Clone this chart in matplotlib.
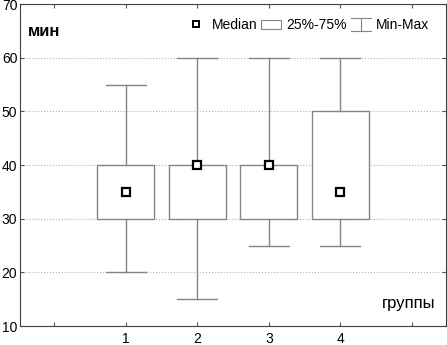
import matplotlib.pyplot as plt
from matplotlib.lines import Line2D
from matplotlib.patches import Rectangle
from matplotlib.legend_handler import HandlerBase

plt.rcParams['font.family'] = ['Liberation Sans', 'DejaVu Sans']

groups = [1, 2, 3, 4]
mins = [20, 15, 25, 25]
q1 = [30, 30, 30, 30]
medians = [35, 40, 40, 35]
q3 = [40, 40, 40, 50]
maxs = [55, 60, 60, 60]

edge = '#858585'

fig = plt.figure(figsize=(4.47, 3.45), dpi=100)
ax = fig.add_axes([0.045, 0.055, 0.953, 0.933])

stats = [dict(whislo=lo, q1=a, med=m, q3=b, whishi=hi, label=str(g))
         for g, lo, a, m, b, hi in zip(groups, mins, q1, medians, q3, maxs)]
ax.bxp(stats, positions=groups, widths=0.8, showfliers=False, patch_artist=True,
       boxprops=dict(facecolor='white', edgecolor=edge, linewidth=1),
       whiskerprops=dict(color=edge, linewidth=1),
       capprops=dict(color=edge, linewidth=1),
       medianprops=dict(linewidth=0), capwidths=0.56, zorder=3)
ax.plot(groups, medians, ls='none', marker='s', ms=5.5, mfc='white',
        mec='black', mew=1.6, zorder=4)

ax.set_xlim(-0.48, 5.48)
ax.set_ylim(10, 70)
ax.set_xticks([0, 1, 2, 3, 4, 5])
ax.set_xticklabels(['', '1', '2', '3', '4', ''])
ax.set_yticks(range(10, 71, 10))
ax.tick_params(direction='in', top=True, right=True, labelsize=10, length=3,
               color='#505050')
ax.tick_params(axis='x', pad=4)
ax.tick_params(axis='y', pad=2)
ax.yaxis.grid(True, ls=':', color='#b0b0b0', lw=0.8)
for s in ax.spines.values():
    s.set_color('#404040')

ax.text(0.018, 0.915, 'мин', transform=ax.transAxes, fontsize=12,
        fontweight='bold', va='center', ha='left')
ax.text(0.975, 0.07, 'группы', transform=ax.transAxes, fontsize=12,
        va='center', ha='right')


class MinMaxHandler(HandlerBase):
    def create_artists(self, legend, orig, xd, yd, w, h, fs, trans):
        cx = xd + w / 2
        top = yd + h + 1
        bot = yd - 1
        lines = [Line2D([xd, xd + w], [top, top]),
                 Line2D([cx, cx], [bot, top]),
                 Line2D([xd, xd + w], [bot, bot])]
        for l in lines:
            l.set_color(edge)
            l.set_linewidth(0.8)
            l.set_transform(trans)
        return lines


h_med = Line2D([], [], ls='none', marker='s', ms=4.5, mfc='white', mec='black', mew=1.4)
h_box = Rectangle((0, 0), 1, 1, facecolor='white', edgecolor=edge, lw=0.8)
h_mm = object()
ax.legend([h_med, h_box, h_mm], ['Median', '25%-75%', 'Min-Max'],
          handler_map={h_mm: MinMaxHandler()}, ncol=3, frameon=False,
          loc='upper right', bbox_to_anchor=(0.99, 0.995), fontsize=10,
          handlelength=1.4, handletextpad=0.4, columnspacing=0.3)

fig.savefig('out.png', dpi=100)
